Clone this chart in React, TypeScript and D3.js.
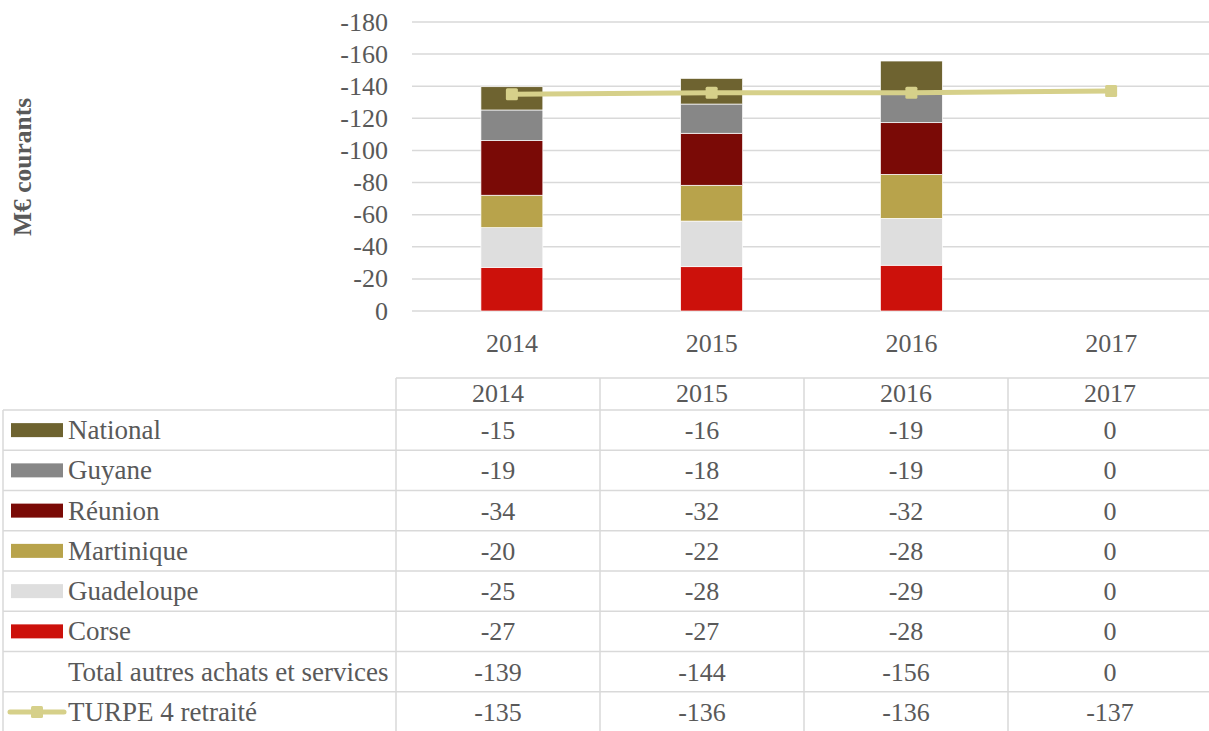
import React, { useEffect, useRef } from 'react';
import * as d3 from 'd3';

const years = ['2014', '2015', '2016', '2017'];
const seriesNames = ['National', 'Guyane', 'Réunion', 'Martinique', 'Guadeloupe', 'Corse'];

// bar heights
const national = [-14.5, -16, -19.4, 0];
const guyane = [-19.1, -18.2, -19, 0];
const reunion = [-34, -32.4, -32.2, 0];
const martinique = [-20.2, -22.3, -27.4, 0];
const guadeloupe = [-24.7, -28.4, -29.2, 0];
const corse = [-27.2, -27.6, -28.5, 0];
const turpe = [-135, -136, -136, -137];

// values printed in the data table
const nationalTable = [-15, -16, -19, 0];
const guyaneTable = [-19, -18, -19, 0];
const reunionTable = [-34, -32, -32, 0];
const martiniqueTable = [-20, -22, -28, 0];
const guadeloupeTable = [-25, -28, -29, 0];
const corseTable = [-27, -27, -28, 0];
const totalsTable = [-139, -144, -156, 0];
const turpeTable = [-135, -136, -136, -137];

const yTicks = [0, -20, -40, -60, -80, -100, -120, -140, -160, -180];
const colors = ['#6e6330', '#878787', '#7a0a06', '#b8a34b', '#dedede', '#cc110b'];
const lineColor = '#d6d08a';

const App = () => {
  const svgRef = useRef<SVGSVGElement>(null);

  useEffect(() => {
    const svg = d3.select(svgRef.current);
    svg.selectAll('*').remove();

    const width = 1209;
    const height = 731;
    const font = 'Liberation Serif, Tinos, Times New Roman, serif';
    const textColor = '#595959';
    const gridColor = '#d9d9d9';
    const fs = 26;
    const seriesValues = [national, guyane, reunion, martinique, guadeloupe, corse];

    svg.attr('width', width).attr('height', height);

    const x = d3.scaleBand().domain(years).range([412, 1211]).paddingInner(0.69).paddingOuter(0.345);
    const y = d3.scaleLinear().domain([0, -180]).range([311, 22]);

    // gridlines
    svg.append('g')
      .selectAll('line')
      .data(yTicks)
      .enter()
      .append('line')
      .attr('x1', 412)
      .attr('x2', width)
      .attr('y1', d => y(d))
      .attr('y2', d => y(d))
      .attr('stroke', gridColor)
      .attr('stroke-width', 1.5);

    // y tick labels
    svg.append('g')
      .selectAll('text')
      .data(yTicks)
      .enter()
      .append('text')
      .attr('x', 388)
      .attr('y', d => y(d) + 8.5)
      .attr('text-anchor', 'end')
      .style('font-family', font)
      .attr('font-size', fs)
      .attr('fill', textColor)
      .text(d => String(d));

    // axis title
    svg.append('text')
      .attr('transform', 'translate(31,167) rotate(-90)')
      .attr('text-anchor', 'middle')
      .style('font-family', font)
      .attr('font-size', 25.5)
      .attr('font-weight', 'bold')
      .attr('fill', textColor)
      .text('M€ courants');

    // stacked bars, bottom-up: Corse first
    const order = [5, 4, 3, 2, 1, 0];
    years.forEach((yr, i) => {
      let acc = 0;
      order.forEach(s => {
        const v = seriesValues[s][i];
        if (v === 0) return;
        const y0 = acc;
        const y1 = acc + v;
        acc = y1;
        svg.append('rect')
          .attr('x', x(yr)!)
          .attr('y', y(y1))
          .attr('width', x.bandwidth())
          .attr('height', y(y0) - y(y1))
          .attr('fill', colors[s])
          .attr('stroke', '#ffffff')
          .attr('stroke-width', 0.7);
      });
    });

    // x axis labels
    svg.append('g')
      .selectAll('text')
      .data(years)
      .enter()
      .append('text')
      .attr('x', d => x(d)! + x.bandwidth() / 2)
      .attr('y', 352)
      .attr('text-anchor', 'middle')
      .style('font-family', font)
      .attr('font-size', fs)
      .attr('fill', textColor)
      .text(d => d);

    // TURPE line
    const line = d3.line<number>()
      .x((d, i) => x(years[i])! + x.bandwidth() / 2)
      .y(d => y(d));
    svg.append('path')
      .datum(turpe)
      .attr('d', line)
      .attr('fill', 'none')
      .attr('stroke', lineColor)
      .attr('stroke-width', 5);
    svg.append('g')
      .selectAll('rect')
      .data(turpe)
      .enter()
      .append('rect')
      .attr('x', (d, i) => x(years[i])! + x.bandwidth() / 2 - 6)
      .attr('y', d => y(d) - 6)
      .attr('width', 12)
      .attr('height', 12)
      .attr('rx', 1.5)
      .attr('fill', lineColor);

    // data table
    const rowLabels = [...seriesNames, 'Total autres achats et services', 'TURPE 4 retraité'];
    const rowValues = [
      nationalTable, guyaneTable, reunionTable, martiniqueTable,
      guadeloupeTable, corseTable, totalsTable, turpeTable,
    ];
    const col = d3.scaleBand().domain(years).range([396, 1212]);
    const row = d3.scaleBand().domain(rowLabels).range([410, 732]);
    const table = svg.append('g');
    const border = (x1: number, y1: number, x2: number, y2: number) =>
      table.append('line')
        .attr('x1', x1).attr('y1', y1).attr('x2', x2).attr('y2', y2)
        .attr('stroke', gridColor).attr('stroke-width', 1.5);

    border(396, 378, width, 378);
    rowLabels.forEach(r => border(3, row(r)!, width, row(r)!));
    border(3, 410, 3, 732);
    border(396, 378, 396, 732);
    years.slice(1).forEach(yr => border(col(yr)!, 378, col(yr)!, 732));

    table.selectAll('text.head')
      .data(years)
      .enter()
      .append('text')
      .attr('class', 'head')
      .attr('x', d => col(d)! + col.bandwidth() / 2)
      .attr('y', 402)
      .attr('text-anchor', 'middle')
      .style('font-family', font)
      .attr('font-size', fs)
      .attr('fill', textColor)
      .text(d => d);

    rowLabels.forEach((r, ri) => {
      const cy = row(r)! + row.bandwidth() / 2;
      table.append('text')
        .attr('x', 68)
        .attr('y', cy + 9)
        .style('font-family', font)
        .attr('font-size', 27)
        .attr('fill', textColor)
        .text(r);
      if (ri < seriesNames.length) {
        table.append('rect')
          .attr('x', 11)
          .attr('y', cy - 7)
          .attr('width', 52)
          .attr('height', 14)
          .attr('fill', colors[ri]);
      } else if (r === 'TURPE 4 retraité') {
        table.append('line')
          .attr('x1', 10).attr('x2', 64)
          .attr('y1', cy).attr('y2', cy)
          .attr('stroke', lineColor)
          .attr('stroke-width', 5)
          .attr('stroke-linecap', 'round');
        table.append('rect')
          .attr('x', 31).attr('y', cy - 6)
          .attr('width', 12).attr('height', 12)
          .attr('rx', 1.5)
          .attr('fill', lineColor);
      }
      years.forEach((yr, i) => {
        table.append('text')
          .attr('x', col(yr)! + col.bandwidth() / 2)
          .attr('y', cy + 9)
          .attr('text-anchor', 'middle')
          .style('font-family', font)
          .attr('font-size', fs)
          .attr('fill', textColor)
          .text(String(rowValues[ri][i]));
      });
    });
  }, []);

  return (
    <svg
      ref={svgRef}
      viewBox="0 0 1209 731"
      style={{ position: 'absolute', left: 0, top: 0, display: 'block' }}
    ></svg>
  );
};

export default App;
